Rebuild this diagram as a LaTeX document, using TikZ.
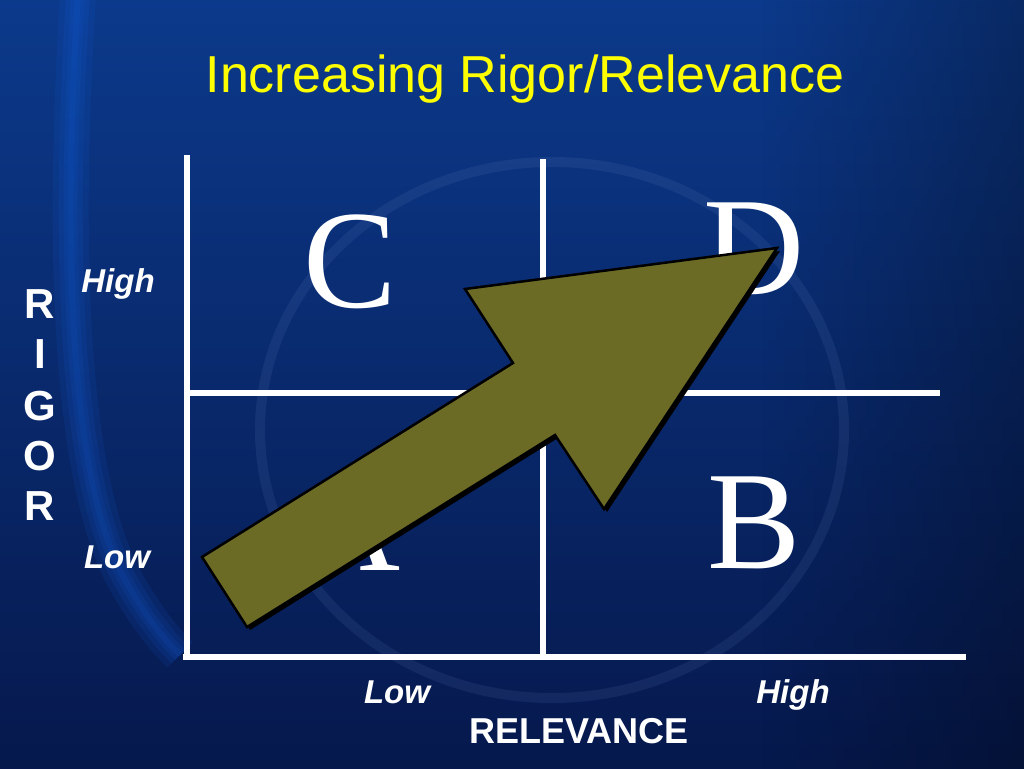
\documentclass[tikz,border=0pt]{standalone}
\usepackage{fontspec}
\usetikzlibrary{fadings}
\setmainfont{Liberation Sans}
\newfontfamily\timesf{Liberation Serif}
\definecolor{olivefill}{RGB}{107,107,38}
\definecolor{titleyellow}{RGB}{255,255,0}
\definecolor{bgtop}{RGB}{12,58,140}
\definecolor{bgbot}{RGB}{6,24,76}
\definecolor{glowblue}{RGB}{20,100,230}
\definecolor{globecol}{RGB}{130,160,220}
\begin{document}
\begin{tikzpicture}[x=1pt,y=-1pt,
  gridline/.style={white,line width=6pt},
  bigletter/.style={white,font=\timesf\fontsize{140}{140}\selectfont,anchor=base,inner sep=0pt},
  axlabel/.style={white,font=\bfseries\itshape\fontsize{33}{33}\selectfont,anchor=base,inner sep=0pt},
  axtitle/.style={white,font=\bfseries\fontsize{36}{36}\selectfont,anchor=base,inner sep=0pt},
  rigorletter/.style={white,font=\bfseries\fontsize{42}{42}\selectfont,anchor=base,inner sep=0pt},
  titletext/.style={font=\fontsize{52}{52}\selectfont,anchor=base,inner sep=0pt},
  ]
\useasboundingbox (0,0) rectangle (1024,768);
% background
\fill[top color=bgtop,bottom color=bgbot] (-10,-10) rectangle (1034,778);
\fill[black,opacity=0.3,path fading=west] (760,-20) rectangle (1044,788);
\foreach \w in {6,14,24,36}{
  \draw[glowblue,opacity=0.11,line width=\w pt]
    (78,-5) .. controls (62,250) and (70,480) .. (125,580) .. controls (145,615) and (160,635) .. (180,655);
}
\draw[globecol,opacity=0.10,line width=10pt] (552,430) ellipse [x radius=292, y radius=268];

% title
\node[titletext,text=titleyellow] (title) at (525,92) {Increasing Rigor/Relevance};

% grid
\coordinate (ltop) at (187,155);
\coordinate (lbot) at (187,660);
\coordinate (mtop) at (543,159);
\coordinate (mbot) at (543,657);
\coordinate (hl) at (187,393);
\coordinate (hr) at (940,393);
\coordinate (bl) at (183,657);
\coordinate (br) at (966,657);
\draw[gridline] (ltop) -- (lbot);
\draw[gridline] (mtop) -- (mbot);
\draw[gridline] (hl) -- (hr);
\draw[gridline] (bl) -- (br);

% quadrant letters
\node[bigletter] (C) at (350,307) {C};
\node[bigletter] (D) at (754,294) {D};
\node[bigletter] (A) at (350,570) {A};
\node[bigletter] (B) at (754,568) {B};

% arrow
\coordinate (tip) at (777,248);
\coordinate (hlc) at (465,289);
\coordinate (un) at (513,363);
\coordinate (tt) at (202,557);
\coordinate (tb) at (247,627);
\coordinate (ln) at (555,435);
\coordinate (hrc) at (604,509);
\fill[black] ([shift={(3,3)}]tip) -- ([shift={(3,3)}]hlc) -- ([shift={(3,3)}]un) -- ([shift={(3,3)}]tt)
  -- ([shift={(3,3)}]tb) -- ([shift={(3,3)}]ln) -- ([shift={(3,3)}]hrc) -- cycle;
\filldraw[fill=olivefill,draw=black,line width=2.5pt,line join=miter]
  (tip) -- (hlc) -- (un) -- (tt) -- (tb) -- (ln) -- (hrc) -- cycle;

% axis labels
\node[axlabel] (lhigh) at (118,292) {High};
\node[axlabel] (llow) at (117,568) {Low};
\node[axlabel] (blow) at (397,703) {Low};
\node[axlabel] (bhigh) at (793,703) {High};
\node[axtitle] (relev) at (579,743) {RELEVANCE};
\node[rigorletter] (r1) at (40,318) {R};
\node[rigorletter] (r2) at (40,368) {I};
\node[rigorletter] (r3) at (40,420) {G};
\node[rigorletter] (r4) at (40,470) {O};
\node[rigorletter] (r5) at (40,520) {R};
\end{tikzpicture}
\end{document}
